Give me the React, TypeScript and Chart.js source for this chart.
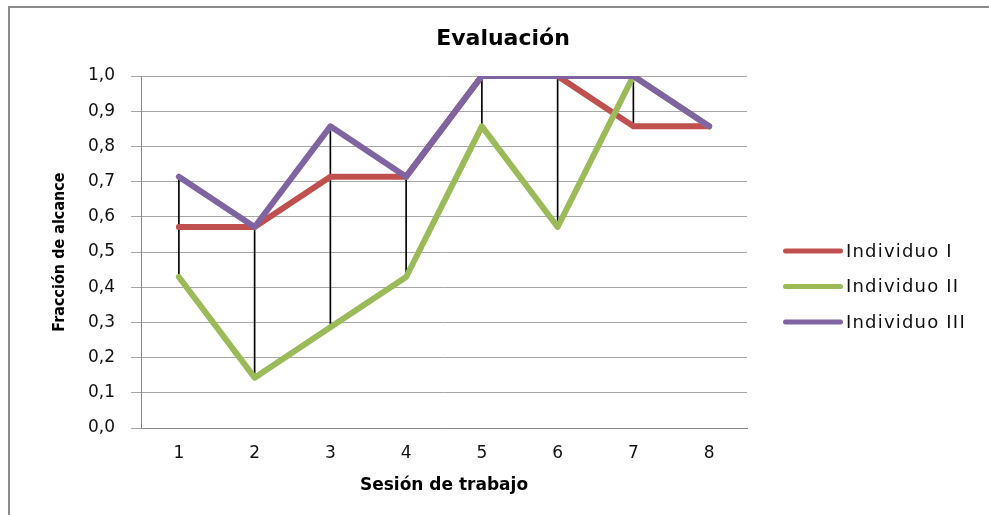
import React, { useEffect, useRef } from 'react';
import { Chart, registerables } from 'chart.js';

Chart.register(...registerables);

// ---- data ----
const sessions = ['1', '2', '3', '4', '5', '6', '7', '8'];
const individuoI = [0.571, 0.571, 0.714, 0.714, 1.0, 1.0, 0.857, 0.857];
const individuoII = [0.429, 0.143, 0.286, 0.429, 0.857, 0.571, 1.0, 0.857];
const individuoIII = [0.714, 0.571, 0.857, 0.714, 1.0, 1.0, 1.0, 0.857];
const seriesNames = ['Individuo I', 'Individuo II', 'Individuo III'];
const chartTitle = 'Evaluación';
const xTitle = 'Sesión de trabajo';
const yTitle = 'Fracción de alcance';

// high-low lines (from lowest to highest value in each session)
const allSeries = [individuoI, individuoII, individuoIII];
const highLow = sessions.map((_, i) => {
  const vals = allSeries.map((s) => s[i]);
  return [Math.min(...vals), Math.max(...vals)];
});

const RED = '#C0504D';
const GREEN = '#9BBB59';
const PURPLE = '#8064A2';
const FONT = '"DejaVu Sans", sans-serif';

export default function App() {
  const ref = useRef<HTMLCanvasElement>(null);

  useEffect(() => {
    const canvas = ref.current;
    if (!canvas) return;

    const framePlugin = {
      id: 'frame',
      beforeDraw(chart: any) {
        const { ctx, width, height } = chart;
        ctx.save();
        ctx.fillStyle = '#ffffff';
        ctx.fillRect(0, 0, width, height);
        ctx.fillStyle = '#8c8c8c';
        ctx.fillRect(8, 6, 2, height - 6);
        ctx.fillRect(8, 6, width - 8, 2);
        ctx.restore();
      },
    };

    const sideLegend = {
      id: 'sideLegend',
      afterDraw(chart: any) {
        const ctx = chart.ctx;
        ctx.save();
        ctx.font = `18px ${FONT}`;
        (ctx as any).letterSpacing = '1.2px';
        ctx.textBaseline = 'middle';
        ctx.textAlign = 'left';
        let row = 0;
        chart.data.datasets.forEach((ds: any) => {
          if (ds.type !== 'line') return;
          const y = 251 + row * 35.5;
          ctx.strokeStyle = ds.borderColor;
          ctx.lineWidth = 5;
          ctx.lineCap = 'round';
          ctx.beginPath();
          ctx.moveTo(785.5, y);
          ctx.lineTo(840.5, y);
          ctx.stroke();
          ctx.fillStyle = '#111111';
          ctx.fillText(ds.label, 846, y + 1);
          row++;
        });
        ctx.restore();
      },
    };

    const lineDs = (label: string, data: number[], color: string, order: number) => ({
      type: 'line' as const,
      label,
      data,
      borderColor: color,
      backgroundColor: color,
      borderWidth: 6,
      borderCapStyle: 'round' as const,
      borderJoinStyle: 'round' as const,
      pointRadius: 0,
      pointHoverRadius: 0,
      tension: 0,
      fill: false,
      order,
    });

    const chart = new Chart(canvas, {
      type: 'line',
      data: {
        labels: sessions,
        datasets: [
          lineDs(seriesNames[0], individuoI, RED, 3),
          lineDs(seriesNames[1], individuoII, GREEN, 2),
          lineDs(seriesNames[2], individuoIII, PURPLE, 1),
          {
            type: 'bar' as const,
            label: 'high-low',
            data: highLow as any,
            backgroundColor: '#000000',
            borderWidth: 0,
            barThickness: 1,
            order: 4,
          } as any,
        ],
      },
      options: {
        responsive: false,
        animation: false,
        devicePixelRatio: 1,
        layout: { padding: { left: 17, right: 0, top: 0, bottom: 10.8 } },
        plugins: {
          legend: { display: false },
          tooltip: { enabled: false },
          title: {
            display: true,
            text: chartTitle,
            color: '#000000',
            font: { family: FONT, size: 22, weight: 'bold' },
            padding: { top: 26, bottom: 23.6 },
          },
        },
        scales: {
          x: {
            type: 'category',
            offset: true,
            grid: { display: false, drawTicks: false },
            border: { display: true, color: '#8a8a8a', width: 1 },
            ticks: {
              color: '#111111',
              font: { family: FONT, size: 17 },
              padding: 15,
              maxRotation: 0,
            },
            title: {
              display: true,
              text: xTitle,
              color: '#000000',
              font: { family: FONT, size: 17, weight: 'bold' },
              padding: { top: 10, bottom: 8 },
            },
            afterFit: (s: any) => {
              s.height = 76.2;
            },
          },
          y: {
            position: 'left',
            min: 0,
            max: 1,
            ticks: {
              stepSize: 0.1,
              padding: 16,
              color: '#111111',
              font: { family: FONT, size: 17 },
              callback: (v: any) => Number(v).toFixed(1).replace('.', ','),
            },
            grid: { color: '#a6a6a6', tickLength: 10, drawTicks: true, lineWidth: 1 },
            border: { display: true, color: '#8a8a8a', width: 1 },
            title: {
              display: true,
              text: yTitle,
              color: '#000000',
              font: { family: '"DejaVu Sans Condensed", "DejaVu Sans", sans-serif', size: 16, weight: 'bold' },
              padding: { top: 33, bottom: 0 },
            },
            afterFit: (s: any) => {
              s.width = 124;
            },
          },
          yR: {
            position: 'right',
            display: true,
            grid: { display: false, drawTicks: false },
            border: { display: false },
            ticks: { display: false },
            afterFit: (s: any) => {
              s.width = 242;
            },
          },
        },
      } as any,
      plugins: [framePlugin, sideLegend],
    });

    return () => chart.destroy();
  }, []);

  return (
    <div style={{ position: 'fixed', left: 0, top: 0, width: 989, height: 515 }}>
      <canvas ref={ref} width={989} height={515} style={{ display: 'block' }} />
    </div>
  );
}
